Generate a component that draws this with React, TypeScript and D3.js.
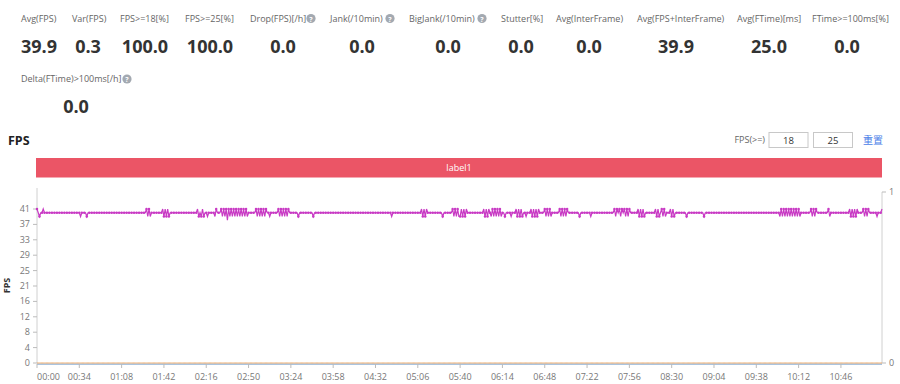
import React from 'react';
import * as d3 from 'd3';

// ---------- data ----------
const STAT_LABELS = [
  'Avg(FPS)', 'Var(FPS)', 'FPS>=18[%]', 'FPS>=25[%]', 'Drop(FPS)[/h]', 'Jank(/10min)',
  'BigJank(/10min)', 'Stutter[%]', 'Avg(InterFrame)', 'Avg(FPS+InterFrame)', 'Avg(FTime)[ms]',
  'FTime>=100ms[%]', 'Delta(FTime)>100ms[/h]',
];
const STAT_VALUES = ['39.9', '0.3', '100.0', '100.0', '0.0', '0.0', '0.0', '0.0', '0.0', '39.9', '25.0', '0.0', '0.0'];
const STAT_HELP = [false, false, false, false, true, true, true, false, false, false, false, false, true];

// FPS trace, one sample per second: plain number = one sample, [value, count] = run
const FPS_SEGMENTS: (number | [number, number])[] = [
  41, 40, 39, [40, 2], 41, [40, 29], 39, [40, 4], 39, [40, 47],
  41, 39, 41, 39, [40, 9],
  41, 39, 41, 39, 41, 39, [40, 22],
  41, 39, 40, 39, 41, 39, [40, 2], 39, [40, 5], 39, 41, [40, 3],
  41, 39, 41, 39, 41, 38, 41, 39, 41, 39,
  41, 39, 41, 39, 41, 39, 41, 39, 41, 39, 41, 39, [40, 6],
  41, 39, 41, 39, 41, 39, 41, 39, 41, [40, 2], 39, [40, 6],
  41, 39, 41, 39, 41, 39, 41, 39, 41, [40, 7], 39, [40, 11], 39, [40, 62], 39, [40, 23],
  41, 39, 41, 39, 41, [40, 12], 39, [40, 7],
  41, 39, 41, 39, 41, 39, 39, 41, 39, 41, 39, 41, [40, 13],
  41, 39, 41, 39, 41, 40, 39, 41, 39, 41, 39, 41, 39, 41, 39, [40, 2], 39, [40, 4], 39, [40, 3],
  41, 39, 41, 39, 41, 39, [40, 2], 39, [40, 3],
  41, 39, 41, 39, 41, 39, 41, [40, 4],
  41, 39, 41, 39, 41, 39, [40, 6],
  41, 39, 41, 39, 41, 39, 41, [40, 9], 39, [40, 8], 39, [40, 18],
  41, 39, 41, 40, 41, 39, 41, 40, 41, 39, 41, 39, 41, [40, 6],
  41, 39, 41, 39, 41, 39, [40, 8], 41, 39, 41, 39, 40, 41, 39, 41, 39, [40, 3], 41, 39, 41, 39, [40, 9],
  39, [40, 13], 39, [40, 60],
  39, 41, 39, 41, 39, 41, 39, 41, 39, 41, 39, 41, 39, 41, 39, 41, 39, [40, 8],
  41, 39, 41, 39, 41, [40, 9], 41, 39, [40, 15],
  41, 39, 41, 39, 41, 39, 41, [40, 4], 41, 39, 41, 39, 41, [40, 6], 39, [40, 3], 41,
];

const Y_TICK_VALUES = [0, 4.1, 8.2, 12.3, 16.4, 20.5, 24.6, 28.7, 32.8, 36.9, 41];
const Y_TICK_LABELS = ['0', '4', '8', '12', '16', '21', '25', '29', '33', '37', '41'];
const Y_MAX = 45.1;
const X_TICK_LABELS = ['00:00', '00:34', '01:08', '01:42', '02:16', '02:50', '03:24', '03:58', '04:32', '05:06',
  '05:40', '06:14', '06:48', '07:22', '07:56', '08:30', '09:04', '09:38', '10:12', '10:46'];
const X_TICK_STEP = 34;
const RIGHT_TICKS = [0, 1];
const THRESHOLDS = ['18', '25'];
const BAND_LABEL = 'label1';

// ---------- layout ----------
const FONT = "'Open Sans', 'Noto Sans', sans-serif";
const COL_X = [21, 72, 120, 185, 250, 330, 409, 501, 556, 637, 737, 812];
const COL_CENTER = [39, 88, 145, 210, 283, 362, 448, 521, 589, 676, 769, 847];
const ICON_X = [0, 0, 0, 0, 311, 390, 482, 0, 0, 0, 0, 0];
const PLOT = { left: 37, right: 882, top: 192, bottom: 363 };
const LINE_COLOR = '#c83ac4';

function HelpIcon({ x, y }: { x: number; y: number }) {
  return (
    <g>
      <circle cx={x} cy={y} r={4.6} fill="#a3a9b1" />
      <text x={x} y={y + 3} textAnchor="middle" fontSize={7} fontWeight="bold" fill="#fff" fontFamily={FONT}>?</text>
    </g>
  );
}

export default function App() {
  const fps: number[] = FPS_SEGMENTS.flatMap((s) => (Array.isArray(s) ? Array(s[1]).fill(s[0]) : [s]));
  const x = d3.scaleLinear().domain([0, fps.length - 1]).range([PLOT.left, PLOT.right]);
  const y = d3.scaleLinear().domain([0, Y_MAX]).range([PLOT.bottom, PLOT.bottom - Y_MAX * 3.756]);
  const y2 = d3.scaleLinear().domain([0, 1]).range([PLOT.bottom, PLOT.top]);
  const line = d3.line<number>().x((_, i) => x(i)).y((d) => y(d));
  const zeroLine = d3.line<number>().x((_, i) => x(i)).y(() => y2(0));

  return (
    <svg width={900} height={384} style={{ position: 'absolute', left: 0, top: 0, background: '#fff' }}>
      {/* stats row 1 */}
      {STAT_LABELS.slice(0, 12).map((lab, i) => (
        <g key={lab}>
          <text x={COL_X[i]} y={21.5} fontSize={9} fill="#666" fontFamily={FONT}>{lab}</text>
          {STAT_HELP[i] && <HelpIcon x={ICON_X[i]} y={18.5} />}
          <text x={COL_CENTER[i]} y={53} fontSize={18} fontWeight="bold" fill="#333" textAnchor="middle" fontFamily={FONT}>{STAT_VALUES[i]}</text>
        </g>
      ))}
      {/* stats row 2 */}
      <text x={21} y={82} fontSize={9} fill="#666" fontFamily={FONT}>{STAT_LABELS[12]}</text>
      {STAT_HELP[12] && <HelpIcon x={127} y={79} />}
      <text x={76} y={113} fontSize={18} fontWeight="bold" fill="#333" textAnchor="middle" fontFamily={FONT}>{STAT_VALUES[12]}</text>

      {/* chart header */}
      <text x={8} y={145} fontSize={12.5} fontWeight="bold" fill="#222" fontFamily={FONT}>FPS</text>
      <text x={765} y={143} fontSize={9} fill="#666" textAnchor="end" fontFamily={FONT}>FPS(&gt;=)</text>
      {THRESHOLDS.map((t, i) => {
        const bx = i === 0 ? 769 : 813.5;
        return (
          <g key={t}>
            <rect x={bx} y={132.5} width={39} height={15} fill="#fff" stroke="#c8c8c8" />
            <text x={bx + 19.5} y={143.5} fontSize={9.5} fill="#333" textAnchor="middle" fontFamily={FONT}>{t}</text>
          </g>
        );
      })}
      <text x={863} y={144} fontSize={10} fill="#4a80e8" fontFamily="'Noto Sans CJK SC', sans-serif">重置</text>

      {/* label band */}
      <rect x={36} y={158} width={846} height={19.5} fill="#eb5566" />
      <text x={459} y={171} fontSize={9} fill="#fff" textAnchor="middle" fontFamily={FONT}>{BAND_LABEL}</text>

      {/* left axis */}
      <line x1={PLOT.left} x2={PLOT.left} y1={PLOT.top - 4} y2={PLOT.bottom} stroke="#d0d0d0" />
      {Y_TICK_VALUES.map((v, i) => (
        <g key={v}>
          <line x1={PLOT.left - 4} x2={PLOT.left} y1={y(v)} y2={y(v)} stroke="#bbb" />
          <text x={PLOT.left - 7} y={y(v) + 3} fontSize={9} fill="#777" textAnchor="end" fontFamily={FONT}>{Y_TICK_LABELS[i]}</text>
        </g>
      ))}
      <text transform={`translate(10,${(PLOT.top + PLOT.bottom) / 2 + 8}) rotate(-90)`} fontSize={9} fontWeight="bold" fill="#333" textAnchor="middle" fontFamily={FONT}>FPS</text>

      {/* right axis */}
      <line x1={PLOT.right} x2={PLOT.right} y1={PLOT.top} y2={PLOT.bottom} stroke="#d0d0d0" />
      {RIGHT_TICKS.map((v) => (
        <g key={v}>
          <line x1={PLOT.right} x2={PLOT.right + 4} y1={y2(v)} y2={y2(v)} stroke="#bbb" />
          <text x={PLOT.right + 7} y={y2(v) + 3} fontSize={9} fill="#777" fontFamily={FONT}>{v}</text>
        </g>
      ))}

      {/* x axis */}
      <line x1={PLOT.left} x2={PLOT.right} y1={PLOT.bottom + 1.2} y2={PLOT.bottom + 1.2} stroke="#8fb0d4" strokeWidth={1.2} />
      <path d={zeroLine(fps) || ''} fill="none" stroke="#eda866" strokeWidth={1} />
      {X_TICK_LABELS.map((lab, i) => {
        const px = x(i * X_TICK_STEP);
        return (
          <g key={lab}>
            <line x1={px} x2={px} y1={PLOT.bottom + 1} y2={PLOT.bottom + 5} stroke="#bbb" />
            <text x={px} y={380} fontSize={9} fill="#777" textAnchor={i === 0 ? 'start' : 'middle'} fontFamily={FONT}>{lab}</text>
          </g>
        );
      })}

      {/* FPS series */}
      <path d={line(fps) || ''} fill="none" stroke={LINE_COLOR} strokeWidth={1.2} />
      {fps.map((v, i) => (i % 2 === 0 ? <circle key={i} cx={x(i)} cy={y(v)} r={1.25} fill={LINE_COLOR} /> : null))}
    </svg>
  );
}
